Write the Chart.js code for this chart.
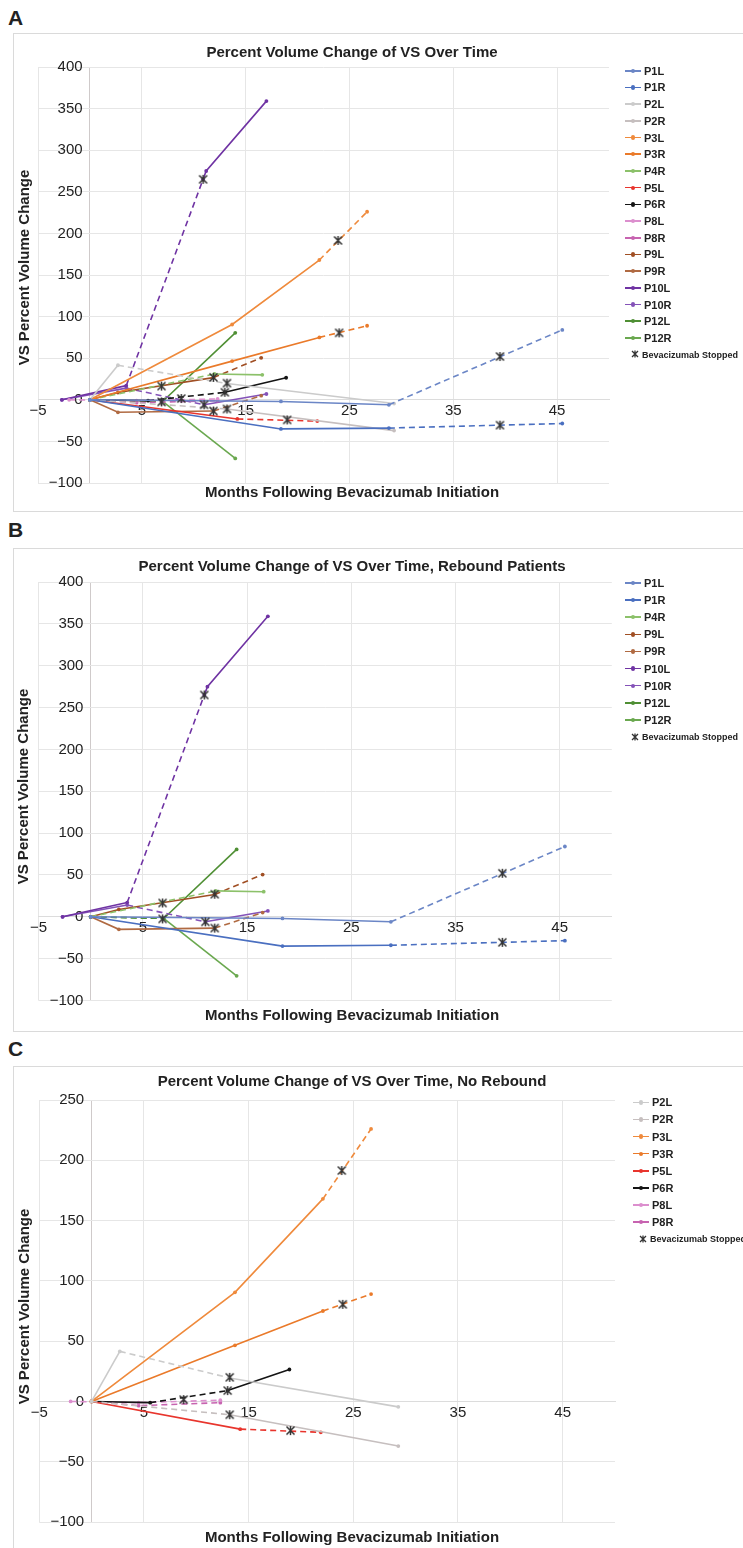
<!DOCTYPE html>
<html>
<head>
<meta charset="utf-8">
<script src="https://cdn.jsdelivr.net/npm/chart.js@4.4.1/dist/chart.umd.min.js"></script>
<style>
body { margin: 0; background: #fff; width: 743px; height: 1548px; position: relative; overflow: hidden;
       font-family: "Liberation Sans", Arial, sans-serif; color: #222; }
.tag { position: absolute; left: 8px; font-weight: bold; font-size: 21px; line-height: 21px; }
.panel { position: absolute; left: 13px; width: 730px; }
.frame { position: absolute; left: 0; top: 0; right: -2px; bottom: 0; border: 1px solid #dadada; }
.panel canvas { position: absolute; left: 0; top: 0; }
.leg { position: absolute; height: 16px; line-height: 16px; font-weight: bold; font-size: 11px; white-space: nowrap; }
.sym { display: inline-block; position: relative; width: 16px; height: 1.6px; vertical-align: middle; margin-right: 3px; top: -1px; }
.sym i { position: absolute; left: 6px; top: -1.4px; width: 4.4px; height: 4.4px; border-radius: 50%; }
.stop { font-size: 9px; }
.stop svg { vertical-align: middle; margin-right: 3px; position: relative; top: -1px; }
</style>
</head>
<body>
<div class="tag" style="top:7px">A</div>
<div class="tag" style="top:519px">B</div>
<div class="tag" style="top:1038px">C</div>

<div class="panel" id="panelA" style="top:33px;height:479px"><div class="frame"></div><canvas id="chartA" width="730" height="479"></canvas></div>
<div class="panel" id="panelB" style="top:548px;height:484px"><div class="frame"></div><canvas id="chartB" width="730" height="484"></canvas></div>
<div class="panel" id="panelC" style="top:1066px;height:490px"><div class="frame"></div><canvas id="chartC" width="730" height="482"></canvas></div>

<script>
// Data -----------------------------------------------------------------------------------
// months after bevacizumab start, percent volume change, and the interval drawn dashed

var P1L_MONTHS = [0, 18.4, 28.8, 45.5];
var P1L_CHANGE = [0, -2, -6, 84];
var P1L_DASHED = [28.8, 45.5];

var P1R_MONTHS = [0, 18.4, 28.8, 45.5];
var P1R_CHANGE = [0, -35, -34, -28.5];
var P1R_DASHED = [28.8, 45.5];

var P2L_MONTHS = [0, 2.7, 13.2, 29.3];
var P2L_CHANGE = [0, 41.5, 19.5, -4.5];
var P2L_DASHED = [2.7, 13.2];

var P2R_MONTHS = [0, 13.2, 29.3];
var P2R_CHANGE = [0, -11, -37];
var P2R_DASHED = [0, 13.2];

var P3L_MONTHS = [0, 13.7, 22.1, 26.7];
var P3L_CHANGE = [0, 90.5, 168, 226];
var P3L_DASHED = [22.1, 26.7];

var P3R_MONTHS = [0, 13.7, 22.1, 26.7];
var P3R_CHANGE = [0, 46.5, 75, 89];
var P3R_DASHED = [22.1, 26.7];

var P4R_MONTHS = [0, 12.0, 16.6];
var P4R_CHANGE = [0, 31, 30];
var P4R_DASHED = [0, 12.0];

var P5L_MONTHS = [0, 14.2, 21.9];
var P5L_CHANGE = [0, -23, -25.6];
var P5L_DASHED = [14.2, 21.9];

var P6R_MONTHS = [0, 5.6, 13.0, 18.9];
var P6R_CHANGE = [0, -1, 9, 26.5];
var P6R_DASHED = [5.6, 13.0];

var P8L_MONTHS = [-2, 4.5, 12.3];
var P8L_CHANGE = [0, -1, 1];
var P8L_DASHED = [-2, 12.3];

var P8R_MONTHS = [0, 4.5, 12.3];
var P8R_CHANGE = [0, -3.5, -1];
var P8R_DASHED = [0, 12.3];

var P9L_MONTHS = [0, 2.7, 11.9, 16.5];
var P9L_CHANGE = [0, 8.8, 26.7, 50.5];
var P9L_DASHED = [11.9, 16.5];

var P9R_MONTHS = [0, 2.7, 11.9, 16.5];
var P9R_CHANGE = [0, -15, -13.5, 5];
var P9R_DASHED = [11.9, 16.5];

var P10L_MONTHS = [-2.7, 3.5, 10.9, 11.2, 17.0];
var P10L_CHANGE = [0, 17, 265, 275, 359];
var P10L_DASHED = [3.5, 10.9];

var P10R_MONTHS = [-2.7, 3.5, 11.0, 17.0];
var P10R_CHANGE = [0, 14, -6, 7];
var P10R_DASHED = [3.5, 11.0];

var P12L_MONTHS = [0, 7.0, 14.0];
var P12L_CHANGE = [0, -2, 80.5];
var P12L_DASHED = [0, 7.0];

var P12R_MONTHS = [0, 7.0, 14.0];
var P12R_CHANGE = [0, -2, -70.5];
var P12R_DASHED = [0, 7.0];

// bevacizumab stopped markers
var STOP_PATIENT = ['P4R', 'P12L', 'P10L', 'P10R', 'P9L', 'P9R', 'P1L', 'P1R', 'P6R', 'P6R', 'P2L', 'P2R', 'P5L', 'P3L', 'P3R'];
var STOP_MONTHS  = [6.9, 6.9, 10.9, 11.0, 11.9, 11.9, 39.5, 39.5, 8.8, 13.0, 13.2, 13.2, 19.0, 23.9, 24.0];
var STOP_CHANGE  = [16.5, -2.5, 265, -6, 27, -13.5, 52, -30.5, 1.5, 9, 20, -11, -24.2, 191.5, 80.5];

var ALL_PATIENTS     = ['P1L', 'P1R', 'P2L', 'P2R', 'P3L', 'P3R', 'P4R', 'P5L', 'P6R', 'P8L', 'P8R', 'P9L', 'P9R', 'P10L', 'P10R', 'P12L', 'P12R'];
var REBOUND_PATIENTS = ['P1L', 'P1R', 'P4R', 'P9L', 'P9R', 'P10L', 'P10R', 'P12L', 'P12R'];
var NO_REBOUND       = ['P2L', 'P2R', 'P3L', 'P3R', 'P5L', 'P6R', 'P8L', 'P8R'];

var X_TICKS = [-5, 0, 5, 15, 25, 35, 45];

// Constants ------------------------------------------------------------------------------

var FONT = '"Liberation Sans", Arial, sans-serif';
var TEXT_COLOR = '#222';
var GRID_COLOR = '#e6e6e6';
var AXIS_COLOR = '#cfcaca';
var DASH = [6, 4];
var STOP_LABEL = 'Bevacizumab Stopped';
var STOP_COLOR = '#333';

var COLORS = {
    P1L: '#6b86c6', P1R: '#4a6fc0', P2L: '#cbcbcb', P2R: '#c6bfbf',
    P3L: '#ef8a3c', P3R: '#ea7a2a', P4R: '#8cc16a', P5L: '#e8352d',
    P6R: '#141414', P8L: '#dc8fce', P8R: '#c763b0', P9L: '#a04f24',
    P9R: '#b06a42', P10L: '#6f33a3', P10R: '#8452b8', P12L: '#4f8f34', P12R: '#6aa84f'
};

var SERIES = {
    P1L: [P1L_MONTHS, P1L_CHANGE, P1L_DASHED], P1R: [P1R_MONTHS, P1R_CHANGE, P1R_DASHED],
    P2L: [P2L_MONTHS, P2L_CHANGE, P2L_DASHED], P2R: [P2R_MONTHS, P2R_CHANGE, P2R_DASHED],
    P3L: [P3L_MONTHS, P3L_CHANGE, P3L_DASHED], P3R: [P3R_MONTHS, P3R_CHANGE, P3R_DASHED],
    P4R: [P4R_MONTHS, P4R_CHANGE, P4R_DASHED], P5L: [P5L_MONTHS, P5L_CHANGE, P5L_DASHED],
    P6R: [P6R_MONTHS, P6R_CHANGE, P6R_DASHED], P8L: [P8L_MONTHS, P8L_CHANGE, P8L_DASHED],
    P8R: [P8R_MONTHS, P8R_CHANGE, P8R_DASHED], P9L: [P9L_MONTHS, P9L_CHANGE, P9L_DASHED],
    P9R: [P9R_MONTHS, P9R_CHANGE, P9R_DASHED], P10L: [P10L_MONTHS, P10L_CHANGE, P10L_DASHED],
    P10R: [P10R_MONTHS, P10R_CHANGE, P10R_DASHED], P12L: [P12L_MONTHS, P12L_CHANGE, P12L_DASHED],
    P12R: [P12R_MONTHS, P12R_CHANGE, P12R_DASHED]
};

// Functions ------------------------------------------------------------------------------

function formatTick(value) {
    return value < 0 ? '\u2212' + Math.abs(value) : String(value);
}

function toPoints(xs, ys) {
    return xs.map(function (x, i) { return {x: x, y: ys[i]}; });
}

// asterisk-like marker (X with a vertical bar), as in the spreadsheet chart
function createStopMarker() {
    var c = document.createElement('canvas');
    c.width = 11;
    c.height = 11;
    var g = c.getContext('2d');
    g.strokeStyle = STOP_COLOR;
    g.lineWidth = 1.5;
    g.beginPath();
    g.moveTo(1.5, 1.5); g.lineTo(9.5, 9.5);
    g.moveTo(9.5, 1.5); g.lineTo(1.5, 9.5);
    g.moveTo(5.5, 1); g.lineTo(5.5, 10);
    g.stroke();
    return c;
}

var STOP_MARKER = createStopMarker();

function createDataset(name) {
    var s = SERIES[name];
    var dashed = s[2];
    return {
        label: name,
        data: toPoints(s[0], s[1]),
        xAxisID: 'x',
        yAxisID: 'y',
        borderColor: COLORS[name],
        backgroundColor: COLORS[name],
        borderWidth: 1.6,
        pointRadius: 1.9,
        pointBorderWidth: 0,
        tension: 0,
        fill: false,
        segment: {
            borderDash: function (ctx) {
                var a = ctx.p0.parsed.x, b = ctx.p1.parsed.x;
                return (a >= dashed[0] - 0.01 && b <= dashed[1] + 0.01) ? DASH : undefined;
            }
        }
    };
}

function createStopDataset(patients) {
    var xs = [], ys = [];
    STOP_PATIENT.forEach(function (p, i) {
        if (patients.indexOf(p) >= 0) {
            xs.push(STOP_MONTHS[i]);
            ys.push(STOP_CHANGE[i]);
        }
    });
    return {
        label: STOP_LABEL,
        data: toPoints(xs, ys),
        xAxisID: 'x',
        yAxisID: 'y',
        showLine: false,
        pointStyle: STOP_MARKER,
        pointRadius: 5,
        borderColor: STOP_COLOR,
        backgroundColor: STOP_COLOR,
        order: -1
    };
}

function createLegend(panel, chart, cfg) {
    chart.data.datasets.forEach(function (ds, i) {
        var item = document.createElement('div');
        item.className = 'leg';
        item.style.top = (cfg.legendTop + i * cfg.legendStep - 8) + 'px';
        if (ds.label === STOP_LABEL) {
            item.className += ' stop';
            item.style.left = (cfg.legendLeft + 6) + 'px';
            item.innerHTML = '<svg width="8" height="8"><path d="M1 1L7 7M7 1L1 7M4 0.5V7.5" ' +
                'stroke="' + STOP_COLOR + '" stroke-width="1.3"/></svg>' + ds.label;
        } else {
            item.style.left = cfg.legendLeft + 'px';
            item.innerHTML = '<span class="sym" style="background:' + ds.borderColor + '"><i style="background:' +
                ds.borderColor + '"></i></span>' + ds.label;
        }
        panel.appendChild(item);
    });
}

function hiddenTitleAxis(axis, position, extra) {
    var scale = {
        type: 'linear',
        axis: axis,
        position: position,
        ticks: {display: false},
        grid: {display: false, drawTicks: false},
        border: {display: false}
    };
    return Object.assign(scale, extra);
}

function createPanel(cfg) {
    var tickFont = {family: FONT, size: 15};
    var titleFont = {family: FONT, size: 15, weight: 'bold'};
    var datasets = cfg.patients.map(createDataset);
    datasets.push(createStopDataset(cfg.patients));

    var context = document.getElementById(cfg.canvas).getContext('2d');
    var chart = new Chart(context, {
        type: 'line',
        data: {datasets: datasets},
        options: {
            responsive: false,
            animation: false,
            layout: {padding: {left: 0, top: 0, right: 52, bottom: cfg.padBottom}},
            plugins: {
                legend: {display: false},
                tooltip: {enabled: false},
                title: {
                    display: true,
                    text: cfg.title,
                    color: TEXT_COLOR,
                    font: titleFont,
                    padding: {top: cfg.titleTop, bottom: cfg.titleBottom}
                }
            },
            scales: {
                x: {
                    type: 'linear',
                    position: {y: 0},
                    min: -5,
                    max: 50,
                    afterBuildTicks: function (scale) {
                        scale.ticks = X_TICKS.map(function (v) { return {value: v}; });
                    },
                    ticks: {
                        autoSkip: false, maxRotation: 0, padding: 2,
                        font: tickFont, color: TEXT_COLOR,
                        callback: function (v) { return v === 0 ? '' : formatTick(v); }
                    },
                    grid: {
                        drawTicks: false,
                        color: function (ctx) { return ctx.tick && ctx.tick.value === 0 ? AXIS_COLOR : GRID_COLOR; }
                    },
                    border: {color: '#dcdcdc'}
                },
                y: {
                    type: 'linear',
                    position: {x: -0.7},
                    min: cfg.yMin,
                    max: cfg.yMax,
                    ticks: {stepSize: 50, font: tickFont, color: TEXT_COLOR, callback: formatTick},
                    grid: {drawTicks: false, color: GRID_COLOR},
                    border: {display: false}
                },
                xt: hiddenTitleAxis('x', 'bottom', {
                    fullSize: true,
                    title: {display: true, text: 'Months Following Bevacizumab Initiation', color: TEXT_COLOR,
                            font: titleFont, padding: {top: cfg.xTitleTop, bottom: 0}}
                }),
                yt: hiddenTitleAxis('y', 'left', {
                    fullSize: true,
                    title: {display: true, text: 'VS Percent Volume Change', color: TEXT_COLOR,
                            font: titleFont, padding: {top: cfg.yTitleTop, bottom: cfg.yTitleBottom}}
                }),
                yr: hiddenTitleAxis('y', 'right', {
                    afterFit: function (scale) { scale.width = cfg.rightWidth; }
                })
            }
        }
    });

    createLegend(document.getElementById(cfg.panel), chart, cfg);
    return chart;
}

createPanel({
    panel: 'panelA', canvas: 'chartA', patients: ALL_PATIENTS,
    title: 'Percent Volume Change of VS Over Time',
    yMin: -100, yMax: 400,
    titleTop: 10.7, titleBottom: 5.3, padBottom: 10, xTitleTop: 1,
    yTitleTop: 2.7, yTitleBottom: 4.3, rightWidth: 82,
    legendLeft: 612, legendTop: 37.7, legendStep: 16.7
});

createPanel({
    panel: 'panelB', canvas: 'chartB', patients: REBOUND_PATIENTS,
    title: 'Percent Volume Change of VS Over Time, Rebound Patients',
    yMin: -100, yMax: 400,
    titleTop: 9.7, titleBottom: 6.3, padBottom: 7, xTitleTop: 6.5,
    yTitleTop: 2, yTitleBottom: 5.6, rightWidth: 79.2,
    legendLeft: 612, legendTop: 35, legendStep: 17.1
});

createPanel({
    panel: 'panelC', canvas: 'chartC', patients: NO_REBOUND,
    title: 'Percent Volume Change of VS Over Time, No Rebound',
    yMin: -100, yMax: 250,
    titleTop: 6.7, titleBottom: 9.3, padBottom: 1, xTitleTop: 7,
    yTitleTop: 3, yTitleBottom: 5.2, rightWidth: 76,
    legendLeft: 620, legendTop: 36.3, legendStep: 17.1
});
</script>
</body>
</html>
